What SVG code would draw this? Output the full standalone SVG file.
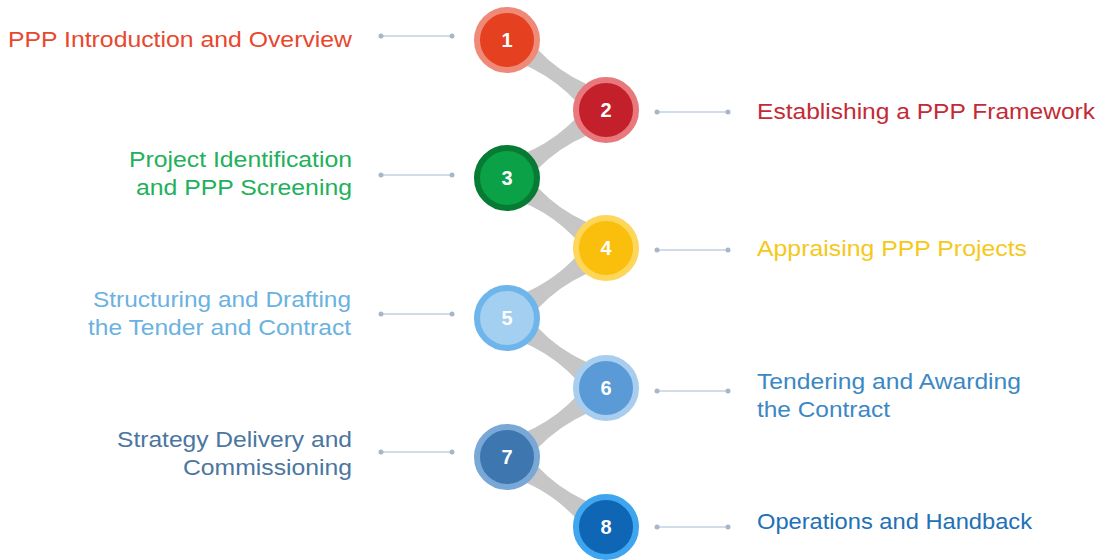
<svg xmlns="http://www.w3.org/2000/svg" xmlns:xlink="http://www.w3.org/1999/xlink" width="1100" height="560" viewBox="0 0 1100 560">
<style>
.lbl{font-family:"Liberation Sans",Arial,sans-serif;font-size:22px}
.num{font-family:"Liberation Sans",Arial,sans-serif;font-size:20px;font-weight:bold;fill:#ffffff;text-anchor:middle}
.end{text-anchor:end}
.lead{stroke:#c3d0e0;stroke-width:1.5;fill:none}
.dot{fill:#a7b6ca}
.link{fill:#c6c6c6}
</style>
<defs>
<path id="link" d="M0,-19 Q60.5,5 121,-19 L121,19 Q60.5,-5 0,19 Z"/>
<g id="leadL"><line class="lead" x1="381" y1="0" x2="452" y2="0"/><circle class="dot" cx="381" cy="0" r="2.5"/><circle class="dot" cx="452" cy="0" r="2.5"/></g>
<g id="leadR"><line class="lead" x1="657" y1="0" x2="728" y2="0"/><circle class="dot" cx="657" cy="0" r="2.5"/><circle class="dot" cx="728" cy="0" r="2.5"/></g>
</defs>
<rect width="1100" height="560" fill="#ffffff"/>
<g id="connectors">
<use xlink:href="#link" class="link" transform="translate(507,40) rotate(35.3)"/>
<use xlink:href="#link" class="link" transform="translate(606,110) rotate(145.5)"/>
<use xlink:href="#link" class="link" transform="translate(507,178) rotate(35.3)"/>
<use xlink:href="#link" class="link" transform="translate(606,248) rotate(144.7)"/>
<use xlink:href="#link" class="link" transform="translate(507,318) rotate(35.3)"/>
<use xlink:href="#link" class="link" transform="translate(606,388) rotate(144.9)"/>
<use xlink:href="#link" class="link" transform="translate(507,457) rotate(35.3)"/>
<use xlink:href="#leadL" transform="translate(0,36)"/>
<use xlink:href="#leadR" transform="translate(0,112)"/>
<use xlink:href="#leadL" transform="translate(0,175)"/>
<use xlink:href="#leadR" transform="translate(0,250)"/>
<use xlink:href="#leadL" transform="translate(0,314)"/>
<use xlink:href="#leadR" transform="translate(0,391)"/>
<use xlink:href="#leadL" transform="translate(0,452)"/>
<use xlink:href="#leadR" transform="translate(0,527)"/>
</g>
<g id="node1">
<circle cx="507" cy="40" r="30" fill="#e5401f" stroke="#f08a78" stroke-width="6"/>
<text class="num" x="507" y="47">1</text>
<text class="lbl end" x="352" y="47" fill="#e8472e" textLength="344" lengthAdjust="spacingAndGlyphs">PPP Introduction and Overview</text>
</g>
<g id="node2">
<circle cx="606" cy="110" r="30" fill="#c3202b" stroke="#e8787c" stroke-width="6"/>
<text class="num" x="606" y="117">2</text>
<text class="lbl" x="757" y="119" fill="#c42a35" textLength="338" lengthAdjust="spacingAndGlyphs">Establishing a PPP Framework</text>
</g>
<g id="node3">
<circle cx="507" cy="178" r="30" fill="#0aa147" stroke="#077a34" stroke-width="6"/>
<text class="num" x="507" y="185">3</text>
<text class="lbl end" x="352" y="167" fill="#22b05a" textLength="223" lengthAdjust="spacingAndGlyphs">Project Identification</text>
<text class="lbl end" x="352" y="195" fill="#22b05a" textLength="216" lengthAdjust="spacingAndGlyphs">and PPP Screening</text>
</g>
<g id="node4">
<circle cx="606" cy="248" r="30" fill="#f9bf0c" stroke="#fdd65a" stroke-width="6"/>
<text class="num" x="606" y="255">4</text>
<text class="lbl" x="757" y="256" fill="#f5c81a" textLength="270" lengthAdjust="spacingAndGlyphs">Appraising PPP Projects</text>
</g>
<g id="node5">
<circle cx="507" cy="318" r="30" fill="#a3cff0" stroke="#6db5ea" stroke-width="6"/>
<text class="num" x="507" y="325">5</text>
<text class="lbl end" x="351" y="307" fill="#6ab2e0" textLength="258" lengthAdjust="spacingAndGlyphs">Structuring and Drafting</text>
<text class="lbl end" x="351" y="335" fill="#6ab2e0" textLength="263" lengthAdjust="spacingAndGlyphs">the Tender and Contract</text>
</g>
<g id="node6">
<circle cx="606" cy="388" r="30" fill="#5a9ad6" stroke="#a9cdee" stroke-width="6"/>
<text class="num" x="606" y="395">6</text>
<text class="lbl" x="757" y="389" fill="#3b88c4" textLength="264" lengthAdjust="spacingAndGlyphs">Tendering and Awarding</text>
<text class="lbl" x="757" y="417" fill="#3b88c4" textLength="133" lengthAdjust="spacingAndGlyphs">the Contract</text>
</g>
<g id="node7">
<circle cx="507" cy="457" r="30" fill="#3e77b0" stroke="#79a7d6" stroke-width="6"/>
<text class="num" x="507" y="464">7</text>
<text class="lbl end" x="352" y="447" fill="#4a76a0" textLength="235" lengthAdjust="spacingAndGlyphs">Strategy Delivery and</text>
<text class="lbl end" x="352" y="475" fill="#4a76a0" textLength="169" lengthAdjust="spacingAndGlyphs">Commissioning</text>
</g>
<g id="node8">
<circle cx="606" cy="527" r="30" fill="#0e66b5" stroke="#3fa5ee" stroke-width="6"/>
<text class="num" x="606" y="534">8</text>
<text class="lbl" x="757" y="529" fill="#2270b5" textLength="275" lengthAdjust="spacingAndGlyphs">Operations and Handback</text>
</g>
</svg>
